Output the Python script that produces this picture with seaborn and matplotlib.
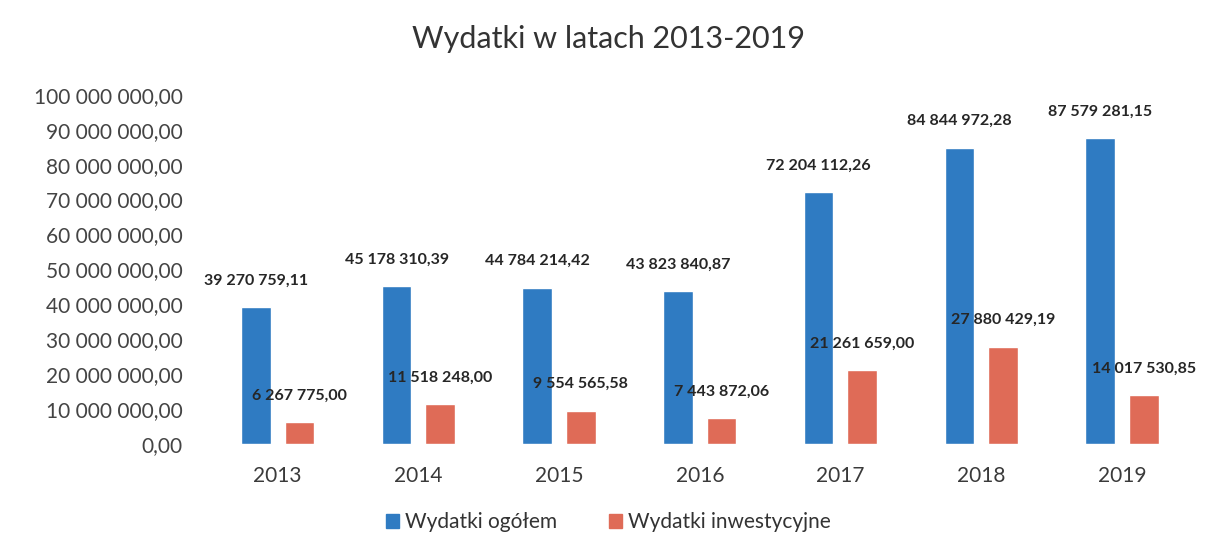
import numpy as np
import pandas as pd
import matplotlib
matplotlib.use('Agg')
import matplotlib.pyplot as plt
import seaborn as sns

years = ['2013', '2014', '2015', '2016', '2017', '2018', '2019']
ogolem = [39270759.11, 45178310.39, 44784214.42, 43823840.87,
          72204112.26, 84844972.28, 87579281.15]
inwestycyjne = [6267775.00, 11518248.00, 9554565.58, 7443872.06,
                21261659.00, 27880429.19, 14017530.85]
series_names = ['Wydatki ogółem', 'Wydatki inwestycyjne']
colors = ['#2f7bc2', '#df6b57']


def pl_fmt(v):
    # polish style: space thousands separator, comma decimals
    return f'{v:,.2f}'.replace(',', ' ').replace('.', ',')


df = pd.DataFrame({
    'rok': years * 2,
    'kwota': ogolem + inwestycyjne,
    'seria': [series_names[0]] * len(years) + [series_names[1]] * len(years),
})

sns.set_theme(style='white')
plt.rcParams['font.family'] = ['Lato', 'DejaVu Sans']

fig = plt.figure(figsize=(12.17, 5.51), dpi=100)
ax = fig.add_axes([0.164, 0.194, 0.822, 0.634])

sns.barplot(data=df, x='rok', y='kwota', hue='seria', palette=colors,
            saturation=1, width=0.62, gap=0.32, ax=ax, legend=True)

for cont, vals in zip(ax.containers, [ogolem, inwestycyjne]):
    ax.bar_label(cont, labels=[pl_fmt(v) for v in vals], padding=14,
                 fontsize=11.5, color='#262626', fontweight='bold')

ax.set_ylim(0, 100_000_000)
ax.set_xlim(-0.555, 6.555)
yt = np.arange(0, 100_000_001, 10_000_000)
ax.set_yticks(yt)
ax.set_yticklabels([pl_fmt(v) for v in yt], fontsize=15, color='#444444')
ax.tick_params(axis='x', labelsize=15, colors='#3a3a3a', pad=10)
ax.tick_params(axis='y', pad=6)
ax.set_xlabel('')
ax.set_ylabel('')
sns.despine(ax=ax, left=True, bottom=True)

fig.suptitle('Wydatki w latach 2013-2019', fontsize=22, color='#333333', y=0.955)

ax.legend_.remove()
handles = [plt.Rectangle((0, 0), 1, 1, color=c) for c in colors]
fig.legend(handles, series_names, loc='center', bbox_to_anchor=(0.5, 0.052),
           ncol=2, frameon=False, fontsize=15, handlelength=0.6, handleheight=0.6,
           handletextpad=0.3, columnspacing=2.5, labelcolor='#333333')

fig.savefig('out.png', dpi=100)
